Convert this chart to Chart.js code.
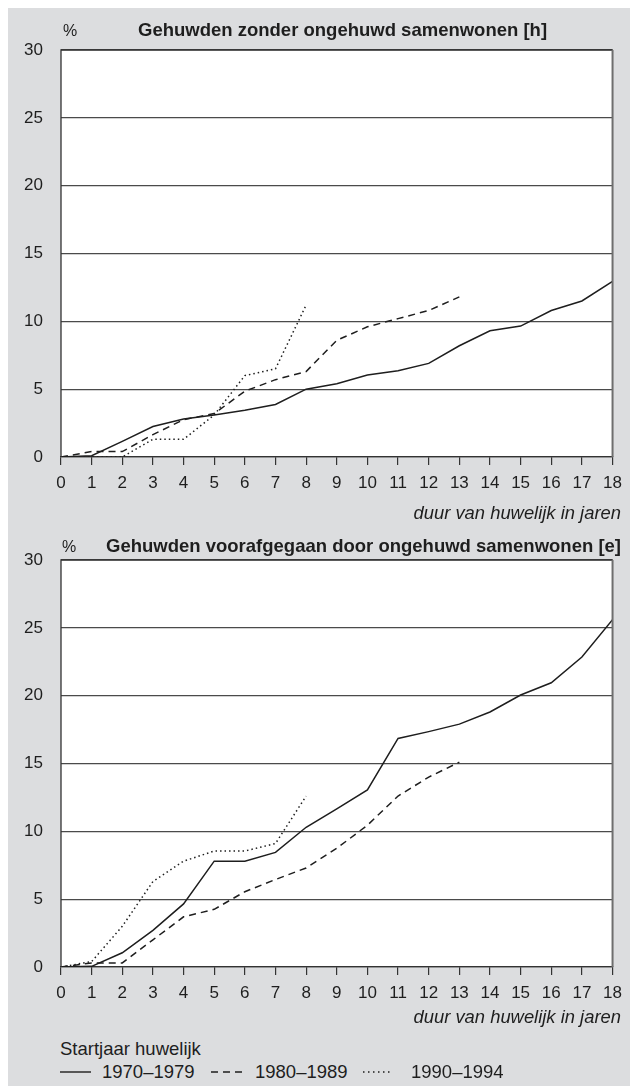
<!DOCTYPE html>
<html>
<head>
<meta charset="utf-8">
<script src="https://cdn.jsdelivr.net/npm/chart.js@4.4.1/dist/chart.umd.min.js"></script>
<style>
  html, body { margin: 0; padding: 0; background: #ffffff; }
  #page { position: relative; width: 630px; height: 1086px; overflow: hidden; background: #ffffff; font-family: "Liberation Sans", Arial, sans-serif; color: #1e1e1e; }
  #bg { position: absolute; left: 8px; top: 8px; width: 622px; height: 1078px; background: #dcdddf; }
  canvas { position: absolute; left: 0; }
  .t { position: absolute; white-space: nowrap; line-height: 1; }
  .title { font-weight: bold; font-size: 18.5px; }
  .pct { font-size: 16px; }
  .ax { font-size: 18.4px; font-style: italic; }
  .leg { font-size: 18.5px; }
  svg { position: absolute; }
</style>
</head>
<body>
<div id="page">
  <div id="bg"></div>
  <canvas id="c1" width="630" height="497" style="top:0px"></canvas>
  <canvas id="c2" width="630" height="497" style="top:510px"></canvas>

  <div class="t pct" style="left:63px; top:23px;">%</div>
  <div class="t title" style="left:138px; top:21px;">Gehuwden zonder ongehuwd samenwonen [h]</div>
  <div class="t ax" style="right:9px; top:504px;">duur van huwelijk in jaren</div>

  <div class="t pct" style="left:62px; top:539px;">%</div>
  <div class="t title" style="right:9px; top:537px;">Gehuwden voorafgegaan door ongehuwd samenwonen [e]</div>
  <div class="t ax" style="right:9px; top:1008px;">duur van huwelijk in jaren</div>

  <div class="t leg" style="left:60px; top:1040px;">Startjaar huwelijk</div>
  <svg style="left:60px; top:1066px;" width="31" height="12"><line x1="0" y1="6" x2="31" y2="6" stroke="#1e1e1e" stroke-width="1.4"/></svg>
  <div class="t leg" style="left:102px; top:1063px;">1970–1979</div>
  <svg style="left:211px; top:1066px;" width="34" height="12"><line x1="0" y1="6" x2="34" y2="6" stroke="#1e1e1e" stroke-width="1.4" stroke-dasharray="7,5"/></svg>
  <div class="t leg" style="left:255px; top:1063px;">1980–1989</div>
  <svg style="left:363px; top:1066px;" width="30" height="12"><line x1="0" y1="6" x2="30" y2="6" stroke="#1e1e1e" stroke-width="1.4" stroke-dasharray="1.5,3.5"/></svg>
  <div class="t leg" style="left:411px; top:1063px;">1990–1994</div>
</div>

<script>
// ---- data ----
const years = [0, 1, 2, 3, 4, 5, 6, 7, 8, 9, 10, 11, 12, 13, 14, 15, 16, 17, 18];
const seriesNames = ['1970–1979', '1980–1989', '1990–1994'];
const yTicks = [0, 5, 10, 15, 20, 25, 30];

// Gehuwden zonder ongehuwd samenwonen [h]
const h1970 = [0, 0.1, 1.15, 2.25, 2.8, 3.1, 3.45, 3.87, 5.0, 5.4, 6.05, 6.35, 6.9, 8.2, 9.3, 9.65, 10.8, 11.5, 12.95];
const h1980 = [0, 0.4, 0.4, 1.65, 2.75, 3.2, 4.85, 5.7, 6.3, 8.6, 9.6, 10.2, 10.8, 11.8];
const h1990 = [0, 0, 0, 1.3, 1.3, 3.1, 6.0, 6.5, 11.2];

// Gehuwden voorafgegaan door ongehuwd samenwonen [e]
const e1970 = [0, 0.05, 1.05, 2.7, 4.65, 7.8, 7.8, 8.45, 10.3, 11.65, 13.05, 16.85, 17.35, 17.9, 18.8, 20.05, 20.95, 22.85, 25.6];
const e1980 = [0, 0.3, 0.3, 2.0, 3.7, 4.25, 5.55, 6.45, 7.3, 8.75, 10.45, 12.6, 14.0, 15.1];
const e1990 = [0, 0.4, 3.0, 6.3, 7.8, 8.55, 8.55, 9.1, 12.6];

// ---- chart ----
const INK = '#1e1e1e';
const dashes = [[], [7, 5], [1.5, 3]];

function toPoints(vals) {
  return vals.map((v, i) => ({ x: years[i], y: v }));
}

const plotFrame = {
  id: 'plotFrame',
  beforeDraw(chart) {
    const { ctx, chartArea: a } = chart;
    ctx.save();
    ctx.fillStyle = '#ffffff';
    ctx.fillRect(a.left, a.top, a.right - a.left, a.bottom - a.top);
    ctx.restore();
  },
  afterDraw(chart) {
    const { ctx, chartArea: a } = chart;
    ctx.save();
    ctx.strokeStyle = '#333333';
    ctx.lineWidth = 1.3;
    ctx.beginPath();
    ctx.moveTo(a.left, a.bottom);
    ctx.lineTo(a.left, a.top);
    ctx.lineTo(a.right, a.top);
    ctx.stroke();
    ctx.strokeStyle = '#6e6e6e';
    ctx.lineWidth = 2;
    ctx.beginPath();
    ctx.moveTo(a.right, a.top);
    ctx.lineTo(a.right, a.bottom);
    ctx.stroke();
    ctx.restore();
  }
};

function makeChart(id, sets) {
  new Chart(document.getElementById(id), {
    type: 'line',
    data: {
      datasets: sets.map((vals, i) => ({
        label: seriesNames[i],
        data: toPoints(vals),
        borderColor: INK,
        borderWidth: 1.5,
        borderDash: dashes[i],
        pointRadius: 0,
        tension: 0,
        fill: false
      }))
    },
    options: {
      responsive: false,
      animation: false,
      events: [],
      layout: { padding: { top: 50, right: 9, bottom: 0, left: 0 } },
      plugins: { legend: { display: false }, tooltip: { enabled: false }, title: { display: false } },
      scales: {
        x: {
          type: 'linear',
          min: 0, max: 18,
          afterBuildTicks: (s) => { s.ticks = years.map(v => ({ value: v })); },
          afterFit: (s) => { s.height = 40; },
          grid: { display: true, drawOnChartArea: false, drawTicks: true, tickLength: 8, color: '#333333', lineWidth: 1.2 },
          border: { display: true, color: '#333333', width: 1.3 },
          ticks: { color: INK, padding: 8, maxRotation: 0, autoSkip: false, font: { family: 'Liberation Sans', size: 17 } }
        },
        y: {
          min: 0, max: 30,
          afterBuildTicks: (s) => { s.ticks = yTicks.map(v => ({ value: v })); },
          afterFit: (s) => { s.width = 61; },
          grid: { display: true, drawTicks: false, color: '#4a4a4a', lineWidth: 1.2 },
          border: { display: false },
          ticks: { color: INK, padding: 18, font: { family: 'Liberation Sans', size: 17 } }
        }
      }
    },
    plugins: [plotFrame]
  });
}

makeChart('c1', [h1970, h1980, h1990]);
makeChart('c2', [e1970, e1980, e1990]);
</script>
</body>
</html>
